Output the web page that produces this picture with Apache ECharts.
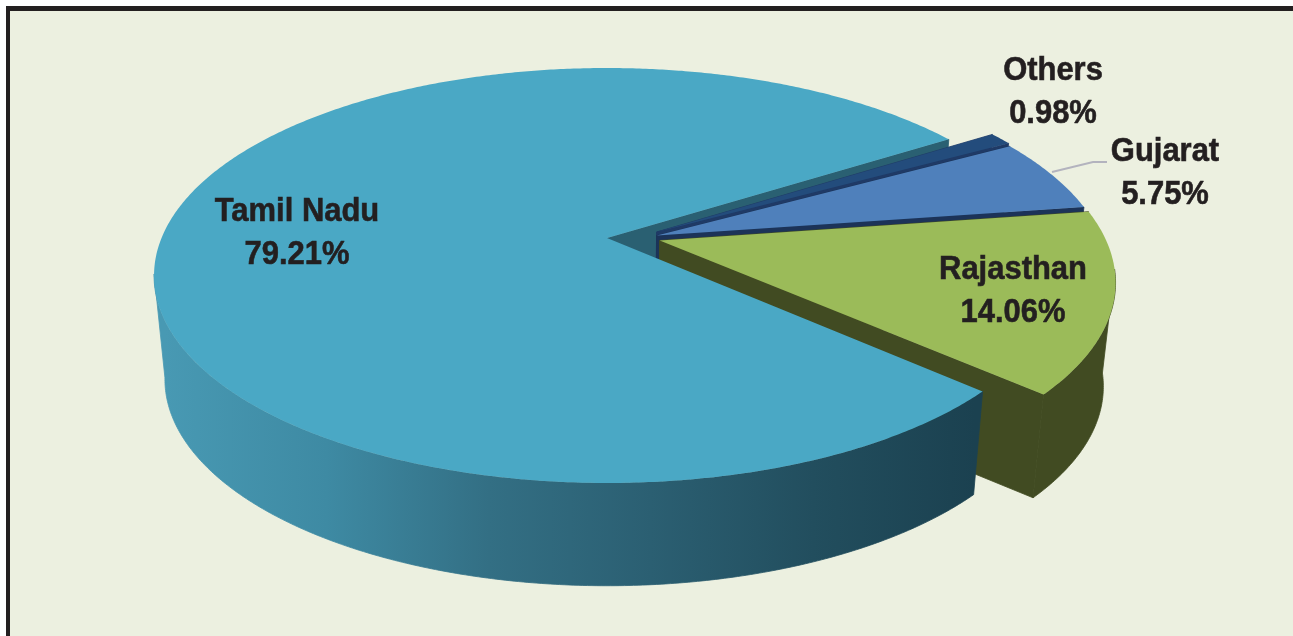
<!DOCTYPE html>
<html>
<head>
<meta charset="utf-8">
<style>html,body{margin:0;padding:0;background:#fff}#c{width:1293px;height:636px}</style>
<script src="https://cdn.jsdelivr.net/npm/echarts@6/dist/echarts.min.js"></script>
</head>
<body>
<div id="c"></div>
<script>
// Data, clockwise from the lower right edge of the largest slice
var categories = ['Tamil Nadu', 'Others', 'Gujarat', 'Rajasthan'];
var shares = [79.21, 0.98, 5.75, 14.06];

// Layout and style
var startAngle = 42.2;
var CX = 607, CY = 238, LOWER_CY = 342, LOWER_SCALE_X = 0.976, LOWER_SCALE_Y = 0.995;
var RX = 445.5, RY = 200.7, PERSPECTIVE = 0.1807;
var explode = [[0, 0], [0.112, -0.03], [0.112, -0.012], [0.118, 0.012]];
var topColors = ['#4aa8c5', '#234c7c', '#4f80bb', '#9bbb59'];
var sideColors = [null, '#1f3a66', '#1c3358', '#414b22'];
var labelPos = [[297, 233], [1053, 92], [1165, 173], [1013, 291]];
var drawOrder = [1, 2, 3, 0];

var ranges = [];
(function () {
  var total = shares.reduce(function (a, b) { return a + b; }, 0), a = startAngle;
  shares.forEach(function (s) { var b = a + s / total * 360; ranges.push([a, b]); a = b; });
})();

function project(u, v, lower) {
  var s = 1 / (1 - PERSPECTIVE * v);
  return [CX + (lower ? LOWER_SCALE_X : 1) * RX * u * s,
          (lower ? LOWER_CY : CY) + (lower ? LOWER_SCALE_Y : 1) * RY * v * s];
}
function rimPoint(i, deg, lower) {
  var t = deg * Math.PI / 180;
  return project(Math.cos(t) + explode[i][0], Math.sin(t) + explode[i][1], lower);
}
function apex(i, lower) { return project(explode[i][0], explode[i][1], lower); }
function arc(i, a, b, lower) {
  var pts = [], n = Math.max(2, Math.ceil(Math.abs(b - a) * 2));
  for (var j = 0; j <= n; j++) pts.push(rimPoint(i, a + (b - a) * j / n, lower));
  return pts;
}
function poly(points, fill, seam) {
  var style = { fill: fill };
  if (seam) { style.stroke = fill; style.lineWidth = 0.8; }
  return { type: 'polygon', shape: { points: points }, style: style };
}
function cutFace(i, deg, fill) {
  return poly([apex(i, false), rimPoint(i, deg, false), rimPoint(i, deg, true), apex(i, true)], fill, true);
}
var wallGradient = new echarts.graphic.LinearGradient(165, 0, 975, 0, [
  { offset: 0, color: '#4899b3' },
  { offset: 0.2, color: '#3e8aa3' },
  { offset: 0.4, color: '#336f84' },
  { offset: 0.6, color: '#2b5f72' },
  { offset: 0.8, color: '#224e5e' },
  { offset: 1, color: '#1b4150' }
], true);

function renderSlice(params, api) {
  var i = api.value(0), a = ranges[i][0], b = ranges[i][1], side = sideColors[i] || wallGradient;
  var children = [];
  // Only the part of the rim that faces the viewer has a visible wall.
  var shift = a > 180 ? 360 : 0;
  var wa = Math.max(a, shift + 8), wb = Math.min(b, shift + 170);
  if (wb > wa) {
    children.push(poly(arc(i, wa, wb, false).concat(arc(i, wb, wa, true)), side, true));
  }
  if (i !== 0) {
    children.push(cutFace(i, a, side));
    children.push(cutFace(i, b, side));
  }
  children.push(poly([apex(i, false)].concat(arc(i, a, b, false)), topColors[i]));
  return { type: 'group', children: children };
}
function renderBackFace(params, api) {
  return cutFace(0, ranges[0][1], '#2a6072');
}
function renderLabel(params, api) {
  var i = api.value(0);
  return {
    type: 'text', x: labelPos[i][0], y: labelPos[i][1], scaleX: 0.91,
    style: {
      text: categories[i] + '\n' + shares[i].toFixed(2) + '%',
      align: 'center', verticalAlign: 'middle', lineHeight: 43,
      font: 'bold 34px "Liberation Sans"', fill: '#231f20',
      stroke: '#231f20', lineWidth: 0.6
    }
  };
}

var chart = echarts.init(document.getElementById('c'), null, { renderer: 'canvas' });
chart.setOption({
  animation: false,
  backgroundColor: '#ffffff',
  graphic: [
    { type: 'rect', shape: { x: 6, y: 6, width: 1290, height: 634 }, style: { fill: '#231f20' }, silent: true },
    { type: 'rect', shape: { x: 10, y: 11, width: 1286, height: 630 }, style: { fill: '#ecf0e0' }, silent: true }
  ],
  series: [
    { type: 'custom', coordinateSystem: 'none', silent: true, z: 2, renderItem: renderBackFace, data: [[0]] },
    { type: 'custom', coordinateSystem: 'none', silent: true, z: 3, renderItem: renderSlice,
      data: drawOrder.map(function (i) { return [i]; }) },
    { type: 'custom', coordinateSystem: 'none', silent: true, z: 4, renderItem: function () {
        return { type: 'polyline', shape: { points: [[1052, 172], [1093, 162], [1107, 162]] },
                 style: { stroke: '#b3b3be', lineWidth: 2, fill: 'none' } };
      }, data: [[0]] },
    { type: 'custom', coordinateSystem: 'none', silent: true, z: 5, renderItem: renderLabel,
      data: categories.map(function (c, i) { return [i]; }) }
  ]
});
</script>
</body>
</html>
